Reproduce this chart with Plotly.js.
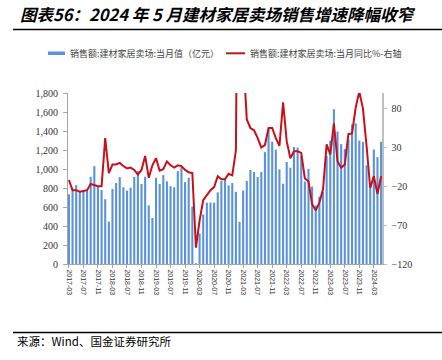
<!DOCTYPE html>
<html><head><meta charset="utf-8">
<script src="https://cdn.plot.ly/plotly-3.0.1.min.js"></script>
<style>html,body{margin:0;padding:0;background:#fff;}#chart{width:442px;height:360px;}</style>
</head><body><div id="chart"></div>
<script>
const months = [
 '2017-03','2017-04','2017-05','2017-06','2017-07','2017-08','2017-09','2017-10','2017-11','2017-12',
 '2018-01','2018-02','2018-03','2018-04','2018-05','2018-06','2018-07','2018-08','2018-09','2018-10','2018-11','2018-12',
 '2019-01','2019-02','2019-03','2019-04','2019-05','2019-06','2019-07','2019-08','2019-09','2019-10','2019-11','2019-12',
 '2020-01','2020-02','2020-03','2020-04','2020-05','2020-06','2020-07','2020-08','2020-09','2020-10','2020-11','2020-12',
 '2021-01','2021-02','2021-03','2021-04','2021-05','2021-06','2021-07','2021-08','2021-09','2021-10','2021-11','2021-12',
 '2022-01','2022-02','2022-03','2022-04','2022-05','2022-06','2022-07','2022-08','2022-09','2022-10','2022-11','2022-12',
 '2023-01','2023-02','2023-03','2023-04','2023-05','2023-06','2023-07','2023-08','2023-09','2023-10','2023-11','2023-12',
 '2024-01','2024-02','2024-03','2024-04','2024-05'
];
// 销售额:建材家居卖场:当月值（亿元）
const salesValue = [
 735,775,830,768,762,780,918,1030,818,780,
 682,446,790,853,915,808,772,804,918,978,842,918,
 617,484,908,842,936,870,818,808,978,1020,862,908,
 604,8,322,522,646,646,646,754,874,902,828,853,
 760,444,774,874,990,968,916,968,1178,1418,1288,1204,
 997,846,1074,1014,1232,1225,1140,868,1002,815,615,710,
 762,1136,1298,1630,1395,1262,1210,1310,1470,1480,1300,1285,
 1040,830,1205,1125,1288
];
// 销售额:建材家居卖场:当月同比%（右轴）
const salesYoY = [
 -12,-25,-25,-27,-26,-25,-17,-19,-20,-20,
 42,-3,8,8,10,6,3,4,1,-5,1,19,
 -9,7,16,0,2,12,7,4,7,6,1,-2,
 -3,-99,-64,-38,-31,-25,-21,-7,-11,-11,-4,-6,
 26,600,150,66,55,52,42,30,33,55,55,42,
 32,88,38,16,25,25,23,-10,-14,-43,-51,-41,
 -24,34,21,61,12,4,8,47,48,81,102,80,
 32,-22,-7,-30,-7
];
const tickLabels = ['2017-03','2017-07','2017-11','2018-03','2018-07','2018-11','2019-03','2019-07','2019-11',
 '2020-03','2020-07','2020-11','2021-03','2021-07','2021-11','2022-03','2022-07','2022-11','2023-03','2023-07','2023-11','2024-03'];
const leftTicks = [0,200,400,600,800,1000,1200,1400,1600,1800];
const rightTicks = [-120,-70,-20,30,80];
const seriesNames = ['销售额:建材家居卖场:当月值（亿元）','销售额:建材家居卖场:当月同比%-右轴'];
const titleText = '图表56：2024 年 5 月建材家居卖场销售增速降幅收窄';
const sourceText = '来源：Wind、国金证券研究所';

const L=68, T=93, W=314, H=171;
function px(x){return (x-L)/W;}
function py(y){return (T+H-y)/H;}
const cjk = 'Noto Sans CJK SC, sans-serif';
const barColor = '#5a92dc', lineColor = '#c8101a';

const traces = [
 {type:'bar', x:months, y:salesValue, name:seriesNames[0], marker:{color:barColor}, yaxis:'y', hoverinfo:'x+y'},
 {type:'scatter', mode:'lines', x:months, y:salesYoY, name:seriesNames[1], line:{color:lineColor, width:2}, yaxis:'y2'}
];

const layout = {
 width:442, height:360,
 margin:{l:L, r:442-L-W, t:T, b:360-T-H},
 paper_bgcolor:'#fff', plot_bgcolor:'#fff',
 showlegend:false,
 bargap:0.42,
 title:{text:titleText, x:20/442, xref:'container', xanchor:'left', y:1-15/360, yref:'container', yanchor:'middle',
   font:{family:cjk, size:16.5, weight:'bold', style:'italic', color:'#000'}},
 xaxis:{type:'category', range:[-0.25, 86.25], tickmode:'array', tickvals:tickLabels, ticktext:tickLabels,
   tickangle:90, ticks:'outside', ticklen:3, tickcolor:'#a6a6a6', showline:true, linecolor:'#a6a6a6', linewidth:1,
   showgrid:false, zeroline:false, tickfont:{family:'Liberation Sans, Arial, sans-serif', size:7, color:'#333'}},
 yaxis:{range:[0,1800], tickvals:leftTicks, tickformat:',d', ticks:'outside', ticklen:4, tickcolor:'#a6a6a6',
   showline:true, linecolor:'#a6a6a6', linewidth:1, showgrid:false, zeroline:false, ticklabelstandoff:3,
   tickfont:{family:'Liberation Serif, Times New Roman, serif', size:10, color:'#333'}},
 yaxis2:{overlaying:'y', side:'right', range:[-120,100], tickvals:rightTicks, ticks:'outside', ticklen:3, tickcolor:'#bfbfbf',
   showline:true, linecolor:'#bfbfbf', linewidth:1.5, showgrid:false, zeroline:false, ticklabelstandoff:3,
   tickfont:{family:'Liberation Serif, Times New Roman, serif', size:10, color:'#333'}},
 shapes:[
  {type:'line', xref:'paper', yref:'paper', x0:px(13), x1:px(442), y0:py(29.5), y1:py(29.5), line:{color:'#000', width:1.5}},
  {type:'line', xref:'paper', yref:'paper', x0:px(13), x1:px(442), y0:py(332.5), y1:py(332.5), line:{color:'#000', width:1.5}},
  {type:'rect', xref:'paper', yref:'paper', x0:px(48), x1:px(65), y0:py(55), y1:py(51.5), fillcolor:barColor, line:{width:0}},
  {type:'line', xref:'paper', yref:'paper', x0:px(226), x1:px(245), y0:py(53.3), y1:py(53.3), line:{color:lineColor, width:2}}
 ],
 annotations:[
  {xref:'paper', yref:'paper', x:px(68), y:py(53.5), xanchor:'left', yanchor:'middle', showarrow:false, text:seriesNames[0],
   font:{family:cjk, size:9, color:'#444'}},
  {xref:'paper', yref:'paper', x:px(248), y:py(53.5), xanchor:'left', yanchor:'middle', showarrow:false, text:seriesNames[1],
   font:{family:cjk, size:9, color:'#444'}},
  {xref:'paper', yref:'paper', x:px(15), y:py(341), xanchor:'left', yanchor:'middle', showarrow:false, text:sourceText,
   font:{family:cjk, size:11.5, color:'#000'}}
 ]
};
Plotly.newPlot('chart', traces, layout, {staticPlot:true, displayModeBar:false});
</script>
</body></html>
